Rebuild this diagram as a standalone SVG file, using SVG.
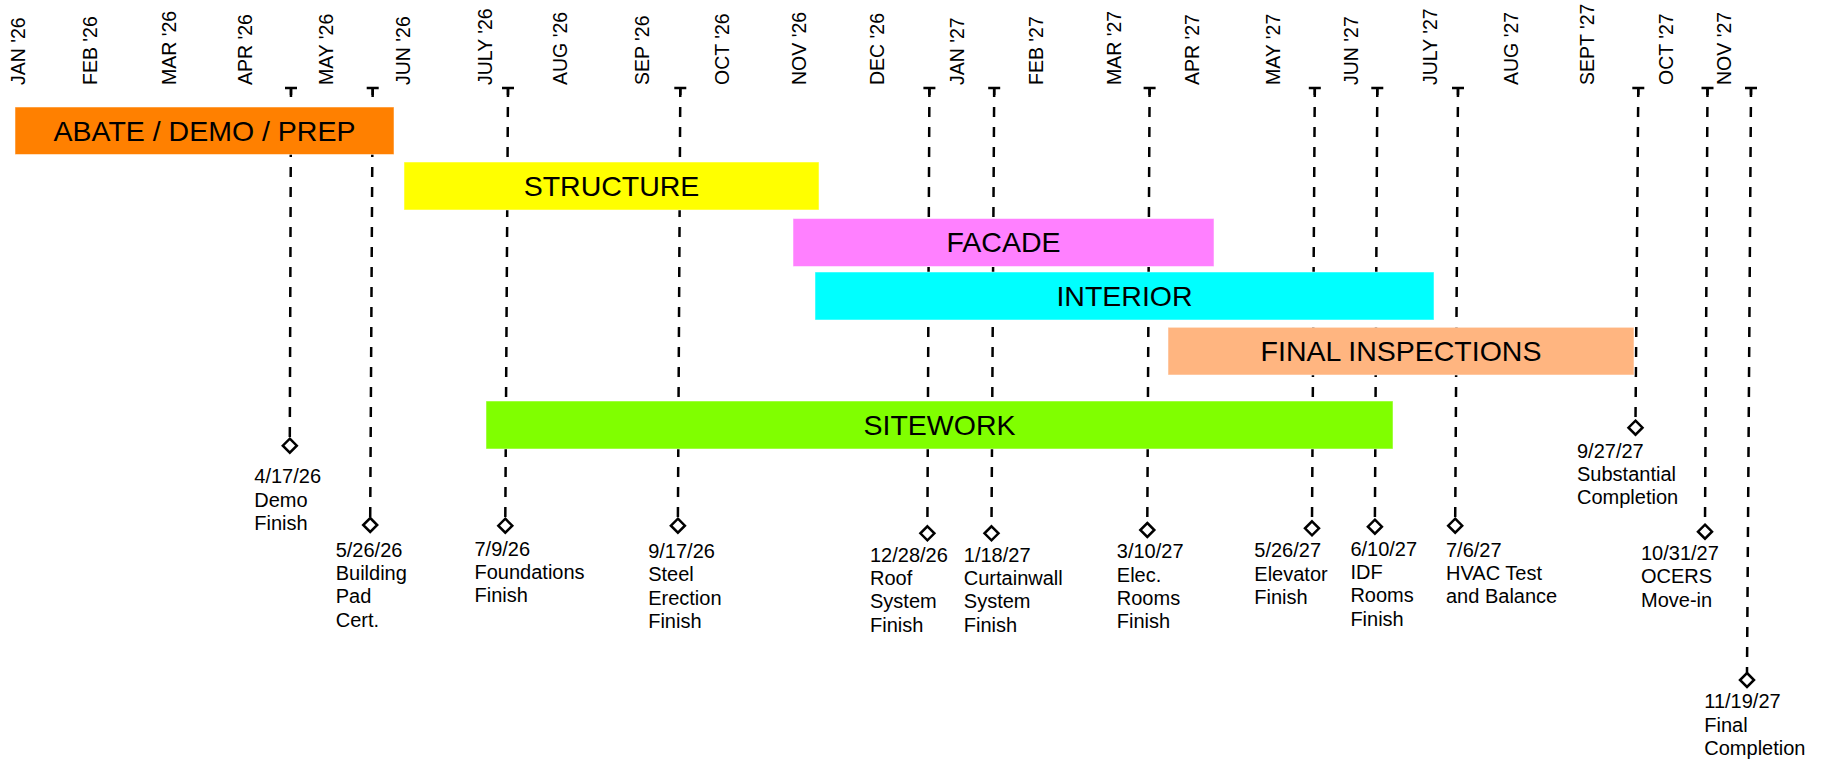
<svg xmlns="http://www.w3.org/2000/svg" width="1830" height="762" viewBox="0 0 1830 762">
<style>
.mon{font-family:"Liberation Sans",Arial,sans-serif;font-size:19.5px;fill:#000}
.bar text{font-family:"Liberation Sans",Arial,sans-serif;font-size:28.5px;fill:#000;text-anchor:middle}
.bar rect{stroke:#fff;stroke-opacity:0.5;stroke-width:1}
.ml{font-family:"Liberation Sans",Arial,sans-serif;font-size:20px;fill:#000}
.dia{fill:#fff;stroke:#000;stroke-width:2.5}
.ln{stroke:#000;stroke-width:2.5;stroke-dasharray:10 10;fill:none}
.cap{stroke:#000;stroke-width:2.5;fill:none}
</style>
<rect width="1830" height="762" fill="#fff"/>
<g id="months">
<text class="mon" transform="translate(25,85) rotate(-90)">JAN '26</text>
<text class="mon" transform="translate(96.7,85) rotate(-90)">FEB '26</text>
<text class="mon" transform="translate(176,85) rotate(-90)">MAR '26</text>
<text class="mon" transform="translate(251.7,85) rotate(-90)">APR '26</text>
<text class="mon" transform="translate(333,85) rotate(-90)">MAY '26</text>
<text class="mon" transform="translate(410,85) rotate(-90)">JUN '26</text>
<text class="mon" transform="translate(491.7,85) rotate(-90)">JULY '26</text>
<text class="mon" transform="translate(567.4,85) rotate(-90)">AUG '26</text>
<text class="mon" transform="translate(649.4,85) rotate(-90)">SEP '26</text>
<text class="mon" transform="translate(728.5,85) rotate(-90)">OCT '26</text>
<text class="mon" transform="translate(805.6,85) rotate(-90)">NOV '26</text>
<text class="mon" transform="translate(884,85) rotate(-90)">DEC '26</text>
<text class="mon" transform="translate(963.8,85) rotate(-90)">JAN '27</text>
<text class="mon" transform="translate(1042.9,85) rotate(-90)">FEB '27</text>
<text class="mon" transform="translate(1121,85) rotate(-90)">MAR '27</text>
<text class="mon" transform="translate(1199,85) rotate(-90)">APR '27</text>
<text class="mon" transform="translate(1280.4,85) rotate(-90)">MAY '27</text>
<text class="mon" transform="translate(1358,85) rotate(-90)">JUN '27</text>
<text class="mon" transform="translate(1437,85) rotate(-90)">JULY '27</text>
<text class="mon" transform="translate(1518,85) rotate(-90)">AUG '27</text>
<text class="mon" transform="translate(1593.5,85) rotate(-90)">SEPT '27</text>
<text class="mon" transform="translate(1672.6,85) rotate(-90)">OCT '27</text>
<text class="mon" transform="translate(1731,85) rotate(-90)">NOV '27</text>
</g>
<g id="connectors">
<path class="cap" d="M285 88H297M291 87V95"/><path class="ln" d="M291 87L289.8 438.7"/>
<path class="cap" d="M366.7 88H378.7M372.7 87V95"/><path class="ln" d="M372.7 87L370.2 518"/>
<path class="cap" d="M502 88H514M508 87V95"/><path class="ln" d="M508 87L505.3 518.7"/>
<path class="cap" d="M674.3 88H686.3M680.3 87V95"/><path class="ln" d="M680.3 87L677.9 518.7"/>
<path class="cap" d="M923.4 88H935.4M929.4 87V95"/><path class="ln" d="M929.4 87L927.4 526.3"/>
<path class="cap" d="M988.2 88H1000.2M994.2 87V95"/><path class="ln" d="M994.2 87L991.5 526.3"/>
<path class="cap" d="M1143.6 88H1155.6M1149.6 87V95"/><path class="ln" d="M1149.6 87L1147.3 523"/>
<path class="cap" d="M1308.8 88H1320.8M1314.8 87V95"/><path class="ln" d="M1314.8 87L1312 521.3"/>
<path class="cap" d="M1371.3 88H1383.3M1377.3 87V95"/><path class="ln" d="M1377.3 87L1374.9 519.7"/>
<path class="cap" d="M1452 88H1464M1458 87V95"/><path class="ln" d="M1458 87L1455.2 518.7"/>
<path class="cap" d="M1632.3 88H1644.3M1638.3 87V95"/><path class="ln" d="M1638.3 87L1635.5 420.7"/>
<path class="cap" d="M1701.5 88H1713.5M1707.5 87V95"/><path class="ln" d="M1707.5 87L1705 524.7"/>
<path class="cap" d="M1745 88H1757M1751 87V95"/><path class="ln" d="M1751 87L1747 673"/>
</g>
<g id="bar-abate" class="bar"><rect x="15" y="107" width="379" height="47.5" fill="#ff8000"/><text x="204.5" y="140.7">ABATE / DEMO / PREP</text></g>
<g id="bar-structure" class="bar"><rect x="404" y="162" width="415" height="48" fill="#ffff00"/><text x="611.5" y="195.8">STRUCTURE</text></g>
<g id="bar-facade" class="bar"><rect x="793" y="218.5" width="421" height="48" fill="#ff80ff"/><text x="1003.5" y="252.3">FACADE</text></g>
<g id="bar-interior" class="bar"><rect x="815" y="272" width="619" height="48" fill="#00ffff"/><text x="1124.5" y="305.8">INTERIOR</text></g>
<g id="bar-final-inspections" class="bar"><rect x="1168" y="327.3" width="466" height="47.7" fill="#ffb580"/><text x="1401" y="361">FINAL INSPECTIONS</text></g>
<g id="bar-sitework" class="bar"><rect x="486" y="401" width="907" height="48" fill="#80ff00"/><text x="939.5" y="434.8">SITEWORK</text></g>
<g id="ms-041726"><path class="dia" d="M289.8 438.7L296.8 445.7L289.8 452.7L282.8 445.7Z"/><text class="ml" x="254.3" y="483.3">4/17/26<tspan x="254.3" dy="23.3">Demo</tspan><tspan x="254.3" dy="23.3">Finish</tspan></text></g>
<g id="ms-052626"><path class="dia" d="M370.2 518L377.2 525L370.2 532L363.2 525Z"/><text class="ml" x="335.7" y="556.7">5/26/26<tspan x="335.7" dy="23.3">Building</tspan><tspan x="335.7" dy="23.3">Pad</tspan><tspan x="335.7" dy="23.3">Cert.</tspan></text></g>
<g id="ms-070926"><path class="dia" d="M505.3 518.7L512.3 525.7L505.3 532.7L498.3 525.7Z"/><text class="ml" x="474.5" y="555.7">7/9/26<tspan x="474.5" dy="23.3">Foundations</tspan><tspan x="474.5" dy="23.3">Finish</tspan></text></g>
<g id="ms-091726"><path class="dia" d="M677.9 518.7L684.9 525.7L677.9 532.7L670.9 525.7Z"/><text class="ml" x="648.2" y="558">9/17/26<tspan x="648.2" dy="23.3">Steel</tspan><tspan x="648.2" dy="23.3">Erection</tspan><tspan x="648.2" dy="23.3">Finish</tspan></text></g>
<g id="ms-122826"><path class="dia" d="M927.4 526.3L934.4 533.3L927.4 540.3L920.4 533.3Z"/><text class="ml" x="870" y="561.7">12/28/26<tspan x="870" dy="23.3">Roof</tspan><tspan x="870" dy="23.3">System</tspan><tspan x="870" dy="23.3">Finish</tspan></text></g>
<g id="ms-011827"><path class="dia" d="M991.5 526.3L998.5 533.3L991.5 540.3L984.5 533.3Z"/><text class="ml" x="963.8" y="561.7">1/18/27<tspan x="963.8" dy="23.3">Curtainwall</tspan><tspan x="963.8" dy="23.3">System</tspan><tspan x="963.8" dy="23.3">Finish</tspan></text></g>
<g id="ms-031027"><path class="dia" d="M1147.3 523L1154.3 530L1147.3 537L1140.3 530Z"/><text class="ml" x="1116.8" y="558.3">3/10/27<tspan x="1116.8" dy="23.3">Elec.</tspan><tspan x="1116.8" dy="23.3">Rooms</tspan><tspan x="1116.8" dy="23.3">Finish</tspan></text></g>
<g id="ms-052627"><path class="dia" d="M1312 521.3L1319 528.3L1312 535.3L1305 528.3Z"/><text class="ml" x="1254.3" y="557.3">5/26/27<tspan x="1254.3" dy="23.3">Elevator</tspan><tspan x="1254.3" dy="23.3">Finish</tspan></text></g>
<g id="ms-061027"><path class="dia" d="M1374.9 519.7L1381.9 526.7L1374.9 533.7L1367.9 526.7Z"/><text class="ml" x="1350.4" y="555.7">6/10/27<tspan x="1350.4" dy="23.3">IDF</tspan><tspan x="1350.4" dy="23.3">Rooms</tspan><tspan x="1350.4" dy="23.3">Finish</tspan></text></g>
<g id="ms-070627"><path class="dia" d="M1455.2 518.7L1462.2 525.7L1455.2 532.7L1448.2 525.7Z"/><text class="ml" x="1446" y="556.7">7/6/27<tspan x="1446" dy="23.3">HVAC Test</tspan><tspan x="1446" dy="23.3">and Balance</tspan></text></g>
<g id="ms-092727"><path class="dia" d="M1635.5 420.7L1642.5 427.7L1635.5 434.7L1628.5 427.7Z"/><text class="ml" x="1577" y="457.7">9/27/27<tspan x="1577" dy="23.3">Substantial</tspan><tspan x="1577" dy="23.3">Completion</tspan></text></g>
<g id="ms-103127"><path class="dia" d="M1705 524.7L1712 531.7L1705 538.7L1698 531.7Z"/><text class="ml" x="1641" y="560">10/31/27<tspan x="1641" dy="23.3">OCERS</tspan><tspan x="1641" dy="23.3">Move-in</tspan></text></g>
<g id="ms-111927"><path class="dia" d="M1747 673L1754 680L1747 687L1740 680Z"/><text class="ml" x="1704.3" y="708.3">11/19/27<tspan x="1704.3" dy="23.3">Final</tspan><tspan x="1704.3" dy="23.3">Completion</tspan></text></g>
</svg>
